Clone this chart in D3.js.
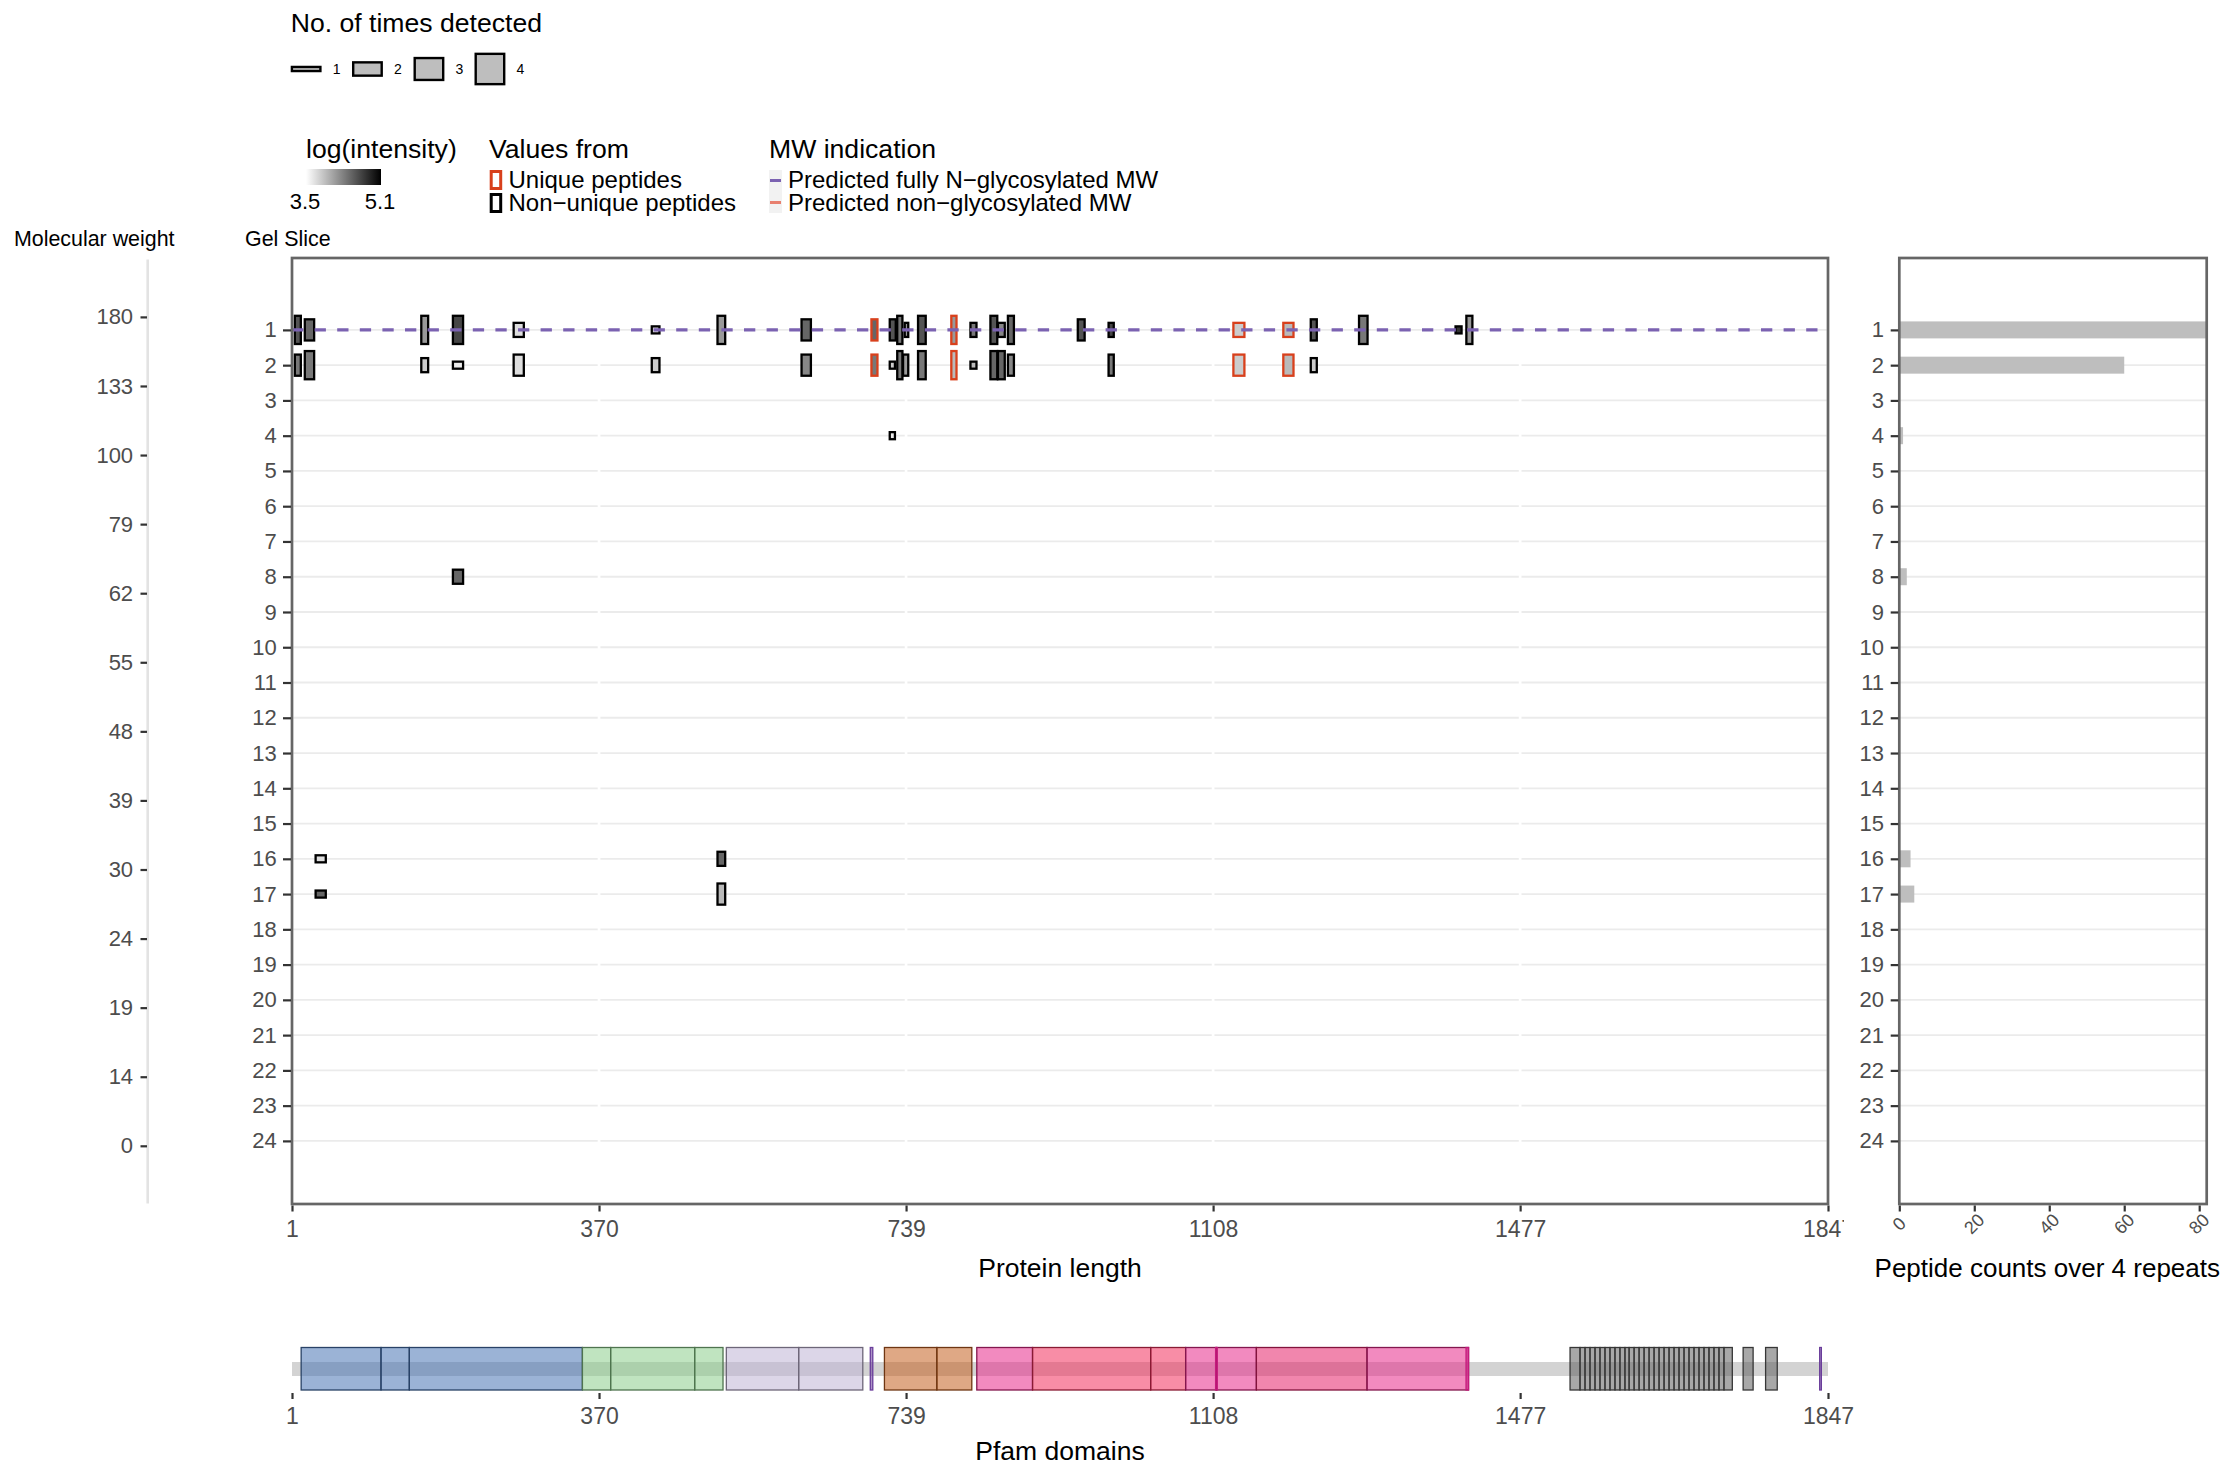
<!DOCTYPE html>
<html><head><meta charset="utf-8">
<script src="https://cdn.jsdelivr.net/npm/d3@7/dist/d3.min.js"></script>
<style>
body{margin:0;background:#fff}
text{font-family:"Liberation Sans",Arial,Helvetica,sans-serif}
</style></head>
<body><svg id="chart" width="2224" height="1470"></svg>
<script>
// ---------------- DATA ----------------
const gelSlices = [1,2,3,4,5,6,7,8,9,10,11,12,13,14,15,16,17,18,19,20,21,22,23,24];
const mwLabels = [180,133,100,79,62,55,48,39,30,24,19,14,0];
const proteinTicks = [1,370,739,1108,1477,1847];
const countTicks = [0,20,40,60,80];
const proteinLength = 1847;
const glycoMWSlice = 1;

// peptides (one entry per rectangle)
const peptideSlice = [
  1,1,1,1,1,1,1,1,1,1,1,1,1,1,1,1,1,1,1,1,1,1,1,1,1,1,
  2,2,2,2,2,2,2,2,2,2,2,2,2,2,2,2,2,2,2,2,2,
  4, 8, 16,16, 17,17];
const peptideStart = [
  3,15,155,193,266,432,511,612,696,718,727,736,752,792,815,839,848,860,944,981,1131,1191,1224,1282,1398,1411,
  3,15,155,193,266,432,612,696,718,727,734,752,792,815,839,848,860,981,1131,1191,1224,
  718, 193, 28,511, 28,511];
const peptideEnd = [
  13,29,166,208,281,444,523,626,706,728,736,743,764,801,825,850,859,870,955,990,1147,1206,1234,1295,1408,1421,
  13,29,166,208,281,444,626,706,727,736,743,764,801,825,850,859,870,990,1147,1206,1234,
  727, 208, 43,523, 43,523];
const peptideTimes = [
  4,3,4,4,2,1,4,3,3,3,4,2,4,4,2,4,2,4,3,2,2,2,3,4,1,4,
  3,4,2,1,3,2,3,3,1,4,3,4,4,1,4,4,3,3,3,3,2,
  1, 2, 1,2, 1,3];
const peptideIntensity = [
  4.57,4.46,4.14,4.67,3.71,3.71,4.14,4.46,4.46,4.57,4.35,4.14,4.57,4.14,4.35,4.57,4.25,4.46,4.57,4.67,3.82,3.93,4.57,4.35,4.78,4.14,
  4.35,4.35,3.82,3.61,3.71,3.82,4.25,4.35,3.82,4.35,4.14,4.35,3.93,3.93,4.46,4.46,4.25,4.35,3.82,3.93,3.82,
  3.61, 4.46, 3.71,4.46, 4.46,3.93];
const peptideUnique = [
  0,0,0,0,0,0,0,0,1,0,0,0,0,1,0,0,0,0,0,0,1,1,0,0,0,0,
  0,0,0,0,0,0,0,1,0,0,0,0,1,0,0,0,0,0,1,1,0,
  0, 0, 0,0, 0,0];

// peptide counts over 4 repeats per gel slice (right panel)
const sliceCounts = [82,60,0,1,0,0,0,2,0,0,0,0,0,0,0,3,4,0,0,0,0,0,0,0];

// Pfam domains
const domainStart = [12,108,142, 350,384,485, 523,610, 696, 713,776, 824, 891,1033, 1075,1112, 1160, 1293, 1111,1412,
  1537,1549,1555,1561,1567,1573,1579,1585,1591,1597,1603,1608,1614,1620,1626,1632,1638,1644,1650,1656,1662,1668,1674,1680,1686,1692,1698,1704,1710,1716,1722,
  1745,1772, 1837];
const domainEnd = [108,142,350, 384,485,519, 610,687, 699, 776,818, 891, 1033,1075, 1112,1160, 1293, 1415, 1113,1415,
  1549,1555,1561,1567,1573,1579,1585,1591,1597,1603,1608,1614,1620,1626,1632,1638,1644,1650,1656,1662,1668,1674,1680,1686,1692,1698,1704,1710,1716,1722,1732,
  1757,1786, 1839];
const domainFamily = ["A","A","A", "B","B","B", "C","C", "M", "E","E", "F", "G","G", "F","F", "H", "F", "N","N",
  "R","R","R","R","R","R","R","R","R","R","R","R","R","R","R","R","R","R","R","R","R","R","R","R","R","R","R","R","R","R","R",
  "R","R", "M"];

// ---------------- LAYOUT / STYLE ----------------
const svg = d3.select("#chart");
const main = {l:292, r:1828, t:258, b:1204};
const side = {l:1899.3, r:2206.7, t:258, b:1204};
const x = d3.scaleLinear().domain([1, proteinLength]).range([main.l, main.r]);
const y = d3.scaleLinear().domain([1, 24]).range([329.9, 1140.9]);
const rowPx = y(2) - y(1);
const fill = d3.scaleLinear().domain([3.5, 5.1]).range(["#ffffff", "#000000"]);
const xs = d3.scaleLinear().domain([0, 82]).range([side.l, side.r]);
const mwY = d3.scalePoint().domain(mwLabels).range([316.9, 1145.8]);
const tickCol = "#4d4d4d";
const famColor = {A:"#4874b4",B:"#8cce8c",C:"#c0b4d5",M:"#6a3d9a",E:"#c46021",F:"#e7298a",G:"#f2305c",H:"#e6226a",N:"#c51b7d",R:"#616161"};

const defs = svg.append("defs");
defs.append("clipPath").attr("id","mainClip").append("rect")
  .attr("x", main.l).attr("y", main.t).attr("width", main.r-main.l).attr("height", main.b-main.t);
defs.append("clipPath").attr("id","xaxClip").append("rect")
  .attr("x", 0).attr("y", main.b).attr("width", 1844).attr("height", 60);
defs.append("clipPath").attr("id","sideClip").append("rect")
  .attr("x", side.l).attr("y", side.t).attr("width", side.r-side.l).attr("height", side.b-side.t);
const grad = defs.append("linearGradient").attr("id","grad");
grad.append("stop").attr("offset","0%").attr("stop-color", fill(3.5));
grad.append("stop").attr("offset","100%").attr("stop-color", fill(5.1));

function styleAxis(g, size){
  g.select(".domain").remove();
  g.selectAll(".tick line").attr("stroke","#333").attr("stroke-width",2.2);
  g.selectAll(".tick text").attr("fill",tickCol).style("font-size",size+"px");
}

// ---------------- MAIN PANEL ----------------
const mp = svg.append("g").attr("clip-path","url(#mainClip)");
mp.selectAll("line.hg").data(gelSlices).join("line")
  .attr("x1", main.l).attr("x2", main.r).attr("y1", d=>y(d)).attr("y2", d=>y(d))
  .attr("stroke","#ebebeb").attr("stroke-width",1.8);
mp.selectAll("line.vg").data(proteinTicks).join("line")
  .attr("x1", d=>x(d)).attr("x2", d=>x(d)).attr("y1", main.t).attr("y2", main.b)
  .attr("stroke","#ffffff").attr("stroke-width",2.7);

const pepIdx = d3.range(peptideSlice.length);
const sw = 2.3;
mp.selectAll("rect.pep").data(pepIdx).join("rect")
  .attr("x", i => x(peptideStart[i]) + sw/2)
  .attr("width", i => Math.max(1, x(peptideEnd[i]) - x(peptideStart[i]) - sw))
  .attr("y", i => y(peptideSlice[i]) - peptideTimes[i]*0.1*rowPx)
  .attr("height", i => peptideTimes[i]*0.2*rowPx)
  .attr("fill", i => fill(peptideIntensity[i]))
  .attr("stroke", i => peptideUnique[i] ? "#d8401c" : "#000")
  .attr("stroke-width", sw);

mp.append("line")
  .attr("x1", main.l).attr("x2", main.r).attr("y1", y(glycoMWSlice)).attr("y2", y(glycoMWSlice))
  .attr("stroke","#7b62b1").attr("stroke-width",3.2).attr("stroke-dasharray","11.3,11.3");

svg.append("rect").attr("x",main.l).attr("y",main.t).attr("width",main.r-main.l).attr("height",main.b-main.t)
  .attr("fill","none").attr("stroke","#666").attr("stroke-width",2.7);

// main axes
const xAxOuter = svg.append("g").attr("clip-path","url(#xaxClip)");
const xAx = xAxOuter.append("g").attr("transform",`translate(0,${main.b+1.5})`)
  .call(d3.axisBottom(x).tickValues(proteinTicks).tickFormat(d3.format("d")).tickSize(6).tickPadding(9));
styleAxis(xAx, 23);
const yAx = svg.append("g").attr("transform",`translate(${main.l-1},0)`)
  .call(d3.axisLeft(y).tickValues(gelSlices).tickFormat(d3.format("d")).tickSize(8).tickPadding(6.3));
styleAxis(yAx, 22);

// molecular weight axis
svg.append("line").attr("x1",147.7).attr("x2",147.7).attr("y1",259.5).attr("y2",1203.5)
  .attr("stroke","#e3e3e3").attr("stroke-width",2.6);
const mwAx = svg.append("g").attr("transform","translate(147,0)")
  .call(d3.axisLeft(mwY).tickSize(6.5).tickPadding(7.4));
styleAxis(mwAx, 22);

svg.append("text").attr("x",14).attr("y",246).style("font-size","21.4px").text("Molecular weight");
svg.append("text").attr("x",245).attr("y",246).style("font-size","21.4px").text("Gel Slice");
svg.append("text").attr("x",(main.l+main.r)/2).attr("y",1277).attr("text-anchor","middle").style("font-size","26.5px").text("Protein length");

// ---------------- SIDE PANEL ----------------
const sp = svg.append("g").attr("clip-path","url(#sideClip)");
sp.selectAll("line.hg").data(gelSlices).join("line")
  .attr("x1", side.l).attr("x2", side.r).attr("y1", d=>y(d)).attr("y2", d=>y(d))
  .attr("stroke","#ebebeb").attr("stroke-width",1.8);
sp.selectAll("rect.bar").data(gelSlices).join("rect")
  .attr("x", xs(0)).attr("y", d=>y(d)-8.5).attr("height",17)
  .attr("width", (d,i)=> xs(sliceCounts[i]) - xs(0))
  .attr("fill","#bebebe");
svg.append("rect").attr("x",side.l).attr("y",side.t).attr("width",side.r-side.l).attr("height",side.b-side.t)
  .attr("fill","none").attr("stroke","#666").attr("stroke-width",2.7);
const syAx = svg.append("g").attr("transform",`translate(${side.l-1},0)`)
  .call(d3.axisLeft(y).tickValues(gelSlices).tickFormat(d3.format("d")).tickSize(7.6).tickPadding(6.7));
styleAxis(syAx, 22);
const sxAx = svg.append("g").attr("transform",`translate(0,${side.b+1.5})`)
  .call(d3.axisBottom(xs).tickValues(countTicks).tickFormat("").tickSize(6));
styleAxis(sxAx, 18);
svg.selectAll("text.cnt").data(countTicks).join("text")
  .attr("transform", d=>`translate(${xs(d)},1224) rotate(-45)`)
  .attr("text-anchor","middle").attr("dominant-baseline","central")
  .attr("fill",tickCol).style("font-size","18px").text(d=>d);
svg.append("text").attr("x",2220).attr("y",1277).attr("text-anchor","end").style("font-size","26px")
  .text("Peptide counts over 4 repeats");

// ---------------- PFAM DOMAINS ----------------
svg.append("rect").attr("x",x(1)).attr("y",1362).attr("width",x(proteinLength)-x(1)).attr("height",14).attr("fill","#d3d3d3");
const domIdx = d3.range(domainStart.length);
svg.selectAll("rect.dom").data(domIdx).join("rect")
  .attr("x", i=>x(domainStart[i])).attr("width", i=>Math.max(1.5, x(domainEnd[i])-x(domainStart[i])))
  .attr("y",1347.5).attr("height",42.5)
  .attr("fill", i=>famColor[domainFamily[i]]).attr("fill-opacity",0.55)
  .attr("stroke", i=> domainFamily[i]==="M"||domainFamily[i]==="N" ? famColor[domainFamily[i]] : d3.color(famColor[domainFamily[i]]).darker(1.6))
  .attr("stroke-width",1.3);
const pAx = svg.append("g").attr("transform","translate(0,1393)")
  .call(d3.axisBottom(x).tickValues(proteinTicks).tickFormat(d3.format("d")).tickSize(6).tickPadding(9));
styleAxis(pAx, 23);
svg.append("text").attr("x",(main.l+main.r)/2).attr("y",1460).attr("text-anchor","middle").style("font-size","26.5px").text("Pfam domains");

// ---------------- LEGENDS ----------------
svg.append("text").attr("x",290.7).attr("y",32).style("font-size","26.6px").text("No. of times detected");
const sizeKeys = [1,2,3,4];
const keyH = [6.5, 15.7, 24.3, 32.7];
const keyX = [290.7, 352, 413.5, 474.5];
svg.selectAll("rect.sk").data(sizeKeys).join("rect")
  .attr("x",(d,i)=>keyX[i]+1.2).attr("width",28.5).attr("y",(d,i)=>69-keyH[i]/2+1.2).attr("height",(d,i)=>keyH[i]-2.4)
  .attr("fill","#bebebe").attr("stroke","#000").attr("stroke-width",2.4);
svg.selectAll("text.sk").data(sizeKeys).join("text")
  .attr("x",(d,i)=>keyX[i]+42).attr("y",74).style("font-size","14px").text(d=>d);

svg.append("text").attr("x",306).attr("y",158).style("font-size","26.6px").text("log(intensity)");
svg.append("rect").attr("x",306).attr("y",169).attr("width",75).attr("height",16).attr("fill","url(#grad)");
svg.append("text").attr("x",305).attr("y",209).attr("text-anchor","middle").style("font-size","22px").text("3.5");
svg.append("text").attr("x",380).attr("y",209).attr("text-anchor","middle").style("font-size","22px").text("5.1");

svg.append("text").attr("x",489).attr("y",158).style("font-size","26.6px").text("Values from");
svg.append("rect").attr("x",491.2).attr("y",171.5).attr("width",9.5).attr("height",17).attr("fill","#fff").attr("stroke","#d8401c").attr("stroke-width",3);
svg.append("rect").attr("x",491.2).attr("y",194.5).attr("width",9.5).attr("height",17).attr("fill","#fff").attr("stroke","#000").attr("stroke-width",3);
svg.append("text").attr("x",508.5).attr("y",188).style("font-size","24px").text("Unique peptides");
svg.append("text").attr("x",508.5).attr("y",211).style("font-size","24px").text("Non\u2212unique peptides");

svg.append("text").attr("x",769).attr("y",158).style("font-size","26.6px").text("MW indication");
svg.append("rect").attr("x",769).attr("y",170).attr("width",13).attr("height",43).attr("fill","#f2f2f2");
svg.append("line").attr("x1",770).attr("x2",781).attr("y1",180.5).attr("y2",180.5).attr("stroke","#7b62b1").attr("stroke-width",3);
svg.append("line").attr("x1",770).attr("x2",781).attr("y1",202.5).attr("y2",202.5).attr("stroke","#e8806f").attr("stroke-width",3);
svg.append("text").attr("x",788).attr("y",188).style("font-size","24px").text("Predicted fully N\u2212glycosylated MW");
svg.append("text").attr("x",788).attr("y",211).style("font-size","24px").text("Predicted non\u2212glycosylated MW");
</script></body></html>
